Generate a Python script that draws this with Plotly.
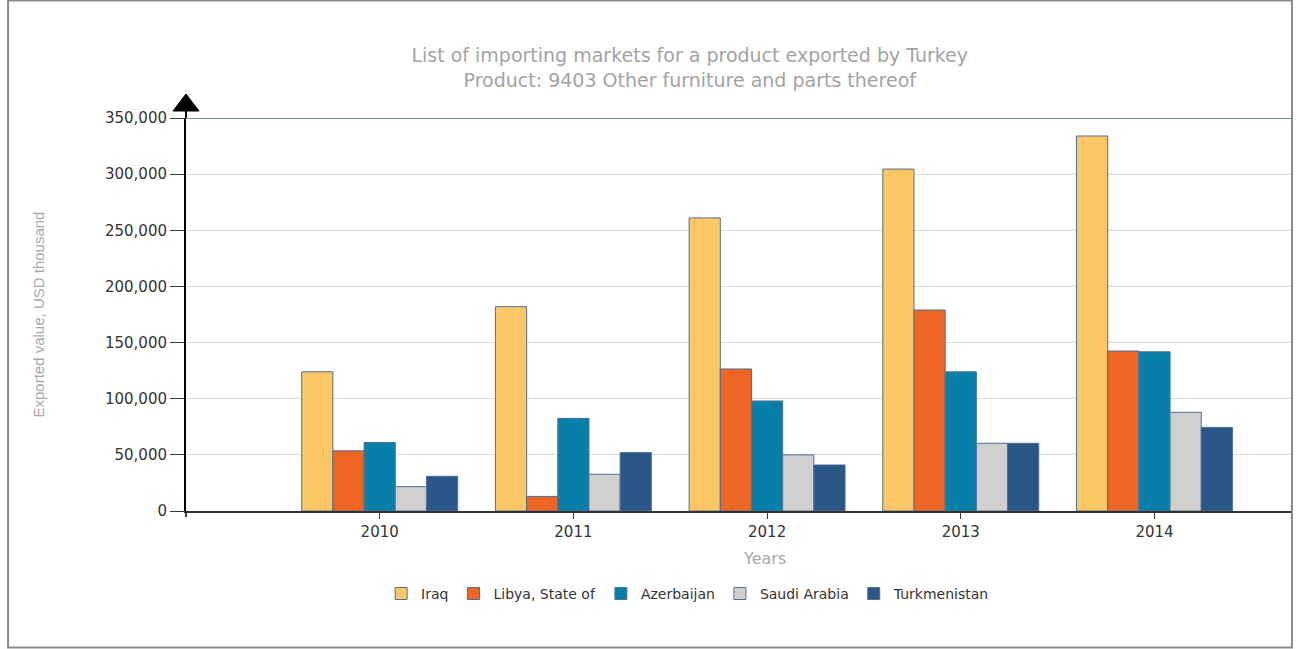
import plotly.graph_objects as go

# Turkey exports of HS 9403 by importing market, USD thousand
years = [2010, 2011, 2012, 2013, 2014]
iraq = [124000, 182000, 261000, 304500, 334000]
libya = [53600, 13000, 126500, 179000, 142500]
azerbaijan = [61000, 82500, 98000, 124000, 141800]
saudi_arabia = [21700, 32700, 50000, 60300, 87900]
turkmenistan = [30900, 52000, 41000, 60300, 74500]

markets = ["Iraq", "Libya, State of", "Azerbaijan", "Saudi Arabia", "Turkmenistan"]
colors = ["#FDC765", "#EF6524", "#0680A8", "#D0D0CE", "#2B5787"]
series = [iraq, libya, azerbaijan, saudi_arabia, turkmenistan]

y_ticks = [0, 50000, 100000, 150000, 200000, 250000, 300000, 350000]

fig = go.Figure()
for name, vals, col in zip(markets, series, colors):
    fig.add_trace(go.Bar(
        x=years, y=vals, name=name,
        marker=dict(color=col, line=dict(color="#4E7098", width=1)),
    ))

fig.update_layout(
    width=1299, height=649,
    margin=dict(l=186, r=7, t=118, b=138, autoexpand=False),
    paper_bgcolor="white", plot_bgcolor="white",
    font=dict(family="DejaVu Sans", size=14, color="#333333"),
    barmode="group", bargap=0.195, bargroupgap=0,
    title=dict(
        text="List of importing markets for a product exported by Turkey<br>Product: 9403 Other furniture and parts thereof",
        x=0.531, xref="container", xanchor="center",
        y=0.904, yref="container", yanchor="middle",
        font=dict(family="DejaVu Sans", size=19, color="#A3A3A3"),
    ),
    showlegend=True,
    legend=dict(
        orientation="h", x=0.454, xanchor="center", y=-0.211, yanchor="middle",
        font=dict(family="DejaVu Sans", size=14, color="#333333"),
        traceorder="normal",
    ),
)

fig.update_xaxes(
    range=[2009, 2014.71], tickvals=years, ticktext=[str(y) for y in years],
    showline=True, linecolor="#333333", linewidth=1.5,
    ticks="outside", ticklen=6, tickcolor="#333333",
    showgrid=False, zeroline=False,
    tickfont=dict(family="DejaVu Sans", size=15, color="#333333"),
)
fig.update_yaxes(
    range=[0, 350000], tickvals=y_ticks, tickformat=",",
    showline=True, linecolor="black", linewidth=2,
    ticks="outside", ticklen=14, tickcolor="#333333",
    showgrid=True, gridcolor="#DDDDDD", gridwidth=1, zeroline=False,
    tickfont=dict(family="DejaVu Sans", size=15, color="#333333"),
)

# axis titles
fig.add_annotation(text="Exported value, USD thousand", xref="paper", yref="paper",
                   x=-0.1338, y=0.5, xanchor="center", yanchor="middle",
                   textangle=-90, showarrow=False,
                   font=dict(family="Liberation Sans", size=15, color="#A8A8A8"))
fig.add_annotation(text="Years", xref="paper", yref="paper",
                   x=0.5235, y=-0.1196, xanchor="center", yanchor="middle",
                   showarrow=False,
                   font=dict(family="DejaVu Sans", size=16, color="#A8A8A8"))

# top blue line, axis arrow and outer frame
fig.add_shape(type="line", xref="paper", yref="y", x0=0, x1=1, y0=350000, y1=350000,
              line=dict(color="#3A6496", width=1.5))
fig.add_shape(type="line", xref="paper", yref="paper", x0=0, x1=0, y0=1, y1=1.02,
              line=dict(color="black", width=2))
fig.add_shape(type="line", xref="paper", yref="paper", x0=0, x1=0, y0=0, y1=-0.0153,
              line=dict(color="black", width=1.5))
fig.add_shape(type="path", xref="paper", yref="paper",
              path="M -0.0118,1.0178 L 0.0118,1.0178 L 0,1.0611 Z",
              fillcolor="black", line=dict(color="black", width=1))
fig.add_shape(type="rect", xref="paper", yref="paper",
              x0=-0.1609, x1=1.0, y0=-0.3473, y1=1.2990,
              line=dict(color="#8A8A8A", width=2), fillcolor="rgba(0,0,0,0)")

fig.write_html("out.html", config={"displayModeBar": False},
               post_script="document.body.style.margin='0px';document.body.style.overflow='hidden';")
